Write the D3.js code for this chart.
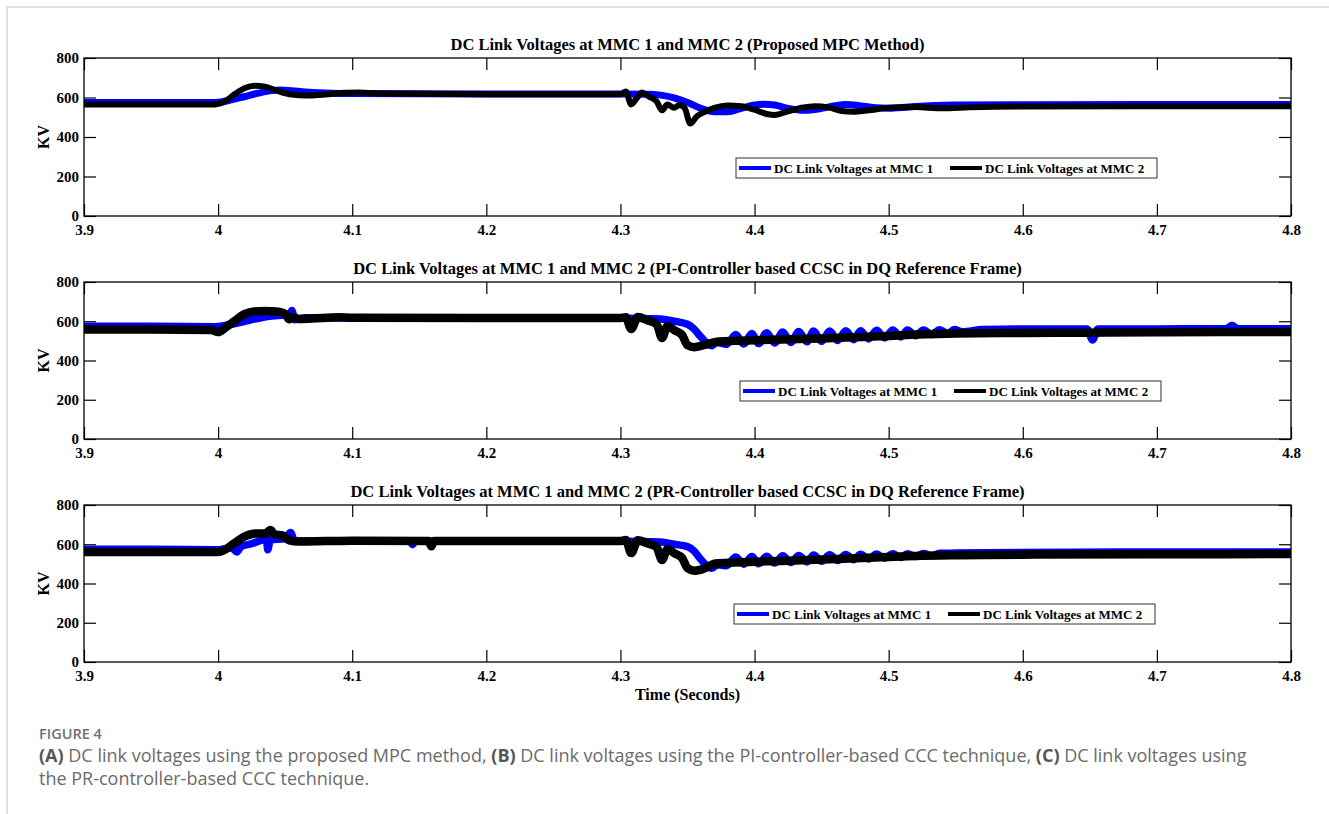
<!doctype html>
<html lang="en">
<head>
  <meta charset="utf-8">
  <title>DC link voltages at MMC 1 and MMC 2</title>
  <style>
    body { margin: 0; background: #fff; }
    svg { display: block; }
    .serif { font-family: 'Liberation Serif', 'Times New Roman', serif; font-weight: bold; fill: #000; }
    .axis .domain { display: none; }
    .axis line { stroke: #000; stroke-width: 1.2; }
    .axis text { font-family: 'Liberation Serif', 'Times New Roman', serif; font-weight: bold; font-size: 15px; fill: #000; }
    .caption { font-family: 'Open Sans', sans-serif; fill: #6b6b6b; }
  </style>
</head>

<body>
  <script src="https://cdn.jsdelivr.net/npm/d3@7"></script>
  <script>
    // ---- data: [time (s), voltage (kV)] ----
    var xTicks = [3.9, 4, 4.1, 4.2, 4.3, 4.4, 4.5, 4.6, 4.7, 4.8]
    var yTicks = [0, 200, 400, 600, 800]
    var seriesNames = ['DC Link Voltages at MMC 1', 'DC Link Voltages at MMC 2']
    var titles = [
      'DC Link Voltages at MMC 1 and MMC 2 (Proposed MPC Method)',
      'DC Link Voltages at MMC 1 and MMC 2 (PI-Controller based CCSC in DQ Reference Frame)',
      'DC Link Voltages at MMC 1 and MMC 2 (PR-Controller based CCSC in DQ Reference Frame)'
    ]

    // (A) proposed MPC
    var mpcMmc1 = [[3.9,575],[3.95,575],[3.998,575],[4.01,588],[4.02,605],[4.03,622],[4.04,635],[4.047,638],
      [4.055,634],[4.065,628],[4.08,623],[4.1,620],[4.2,618],[4.3,618],[4.32,617],[4.33,612],[4.34,598],
      [4.35,575],[4.36,545],[4.37,528],[4.38,528],[4.39,545],[4.4,562],[4.407,566],[4.415,562],[4.425,545],
      [4.437,535],[4.45,545],[4.46,558],[4.468,564],[4.477,560],[4.49,548],[4.5,546],[4.515,552],[4.53,558],
      [4.55,562],[4.6,563],[4.7,564],[4.8,565]]
    var mpcMmc2 = [[3.9,565],[3.95,565],[3.998,565],[4.005,580],[4.012,615],[4.02,648],[4.027,660],[4.035,655],
      [4.045,632],[4.055,615],[4.065,610],[4.08,615],[4.095,624],[4.105,625],[4.12,620],[4.2,617],[4.3,617],
      [4.304,630],[4.308,565],[4.312,595],[4.316,625],[4.321,605],[4.327,580],[4.331,535],[4.335,565],
      [4.34,548],[4.344,562],[4.348,545],[4.352,468],[4.357,505],[4.363,528],[4.37,548],[4.38,560],[4.39,556],
      [4.4,538],[4.41,515],[4.415,512],[4.425,530],[4.435,548],[4.445,556],[4.455,550],[4.465,532],[4.473,528],
      [4.485,535],[4.5,548],[4.52,552],[4.54,545],[4.56,550],[4.6,555],[4.7,556],[4.8,556]]

    // (B) PI-controller based CCSC
    var piMmc1 = [[3.9,575],[3.95,575],[3.998,572],[4.01,585],[4.02,600],[4.03,615],[4.04,626],[4.048,630],
      [4.053,628],[4.055,655],[4.057,608],[4.065,618],[4.08,617],[4.1,617],[4.2,615],[4.3,615],[4.33,612],
      [4.34,600],[4.35,585],[4.355,560],[4.36,520],[4.368,475],[4.372,492],[4.379,482],
      [4.386,532],[4.392,484],[4.398,537],[4.403,486],[4.409,542],[4.415,489],[4.421,545],[4.427,492],
      [4.433,548],[4.439,495],[4.444,550],[4.45,498],[4.456,550],[4.462,502],[4.468,552],[4.474,506],
      [4.479,552],[4.485,510],[4.491,554],[4.497,515],[4.503,555],[4.509,520],[4.514,555],[4.52,526],
      [4.526,556],[4.532,532],[4.538,557],[4.544,538],[4.549,558],[4.555,546],[4.57,558],[4.6,560],
      [4.648,560],[4.652,505],[4.656,560],[4.7,561],[4.752,562],[4.756,580],[4.76,562],[4.8,562]]
    var piMmc2 = [[3.9,558],[3.95,558],[3.995,555],[4.0,545],[4.005,565],[4.012,600],[4.02,638],[4.027,650],
      [4.035,652],[4.045,648],[4.05,638],[4.053,610],[4.056,622],[4.06,612],[4.07,614],[4.09,620],[4.1,618],
      [4.2,616],[4.3,616],[4.304,620],[4.308,560],[4.313,622],[4.32,605],[4.327,585],[4.331,515],[4.335,575],
      [4.34,555],[4.346,530],[4.35,478],[4.355,468],[4.362,478],[4.371,495],[4.385,500],[4.4,503],[4.42,507],
      [4.45,512],[4.48,520],[4.5,525],[4.52,532],[4.55,538],[4.6,540],[4.65,542],[4.7,544],[4.75,545],[4.8,545]]

    // (C) PR-controller based CCSC
    var prMmc1 = [[3.9,575],[3.95,575],[4.0,572],[4.01,582],[4.014,560],[4.017,588],[4.025,603],[4.032,620],
      [4.036,626],[4.037,572],[4.039,624],[4.05,628],[4.054,660],[4.057,617],[4.07,617],[4.1,617],[4.143,616],
      [4.145,598],[4.147,616],[4.2,615],[4.3,615],[4.33,612],[4.34,600],[4.35,588],[4.355,565],[4.36,522],
      [4.368,478],[4.373,496],[4.379,490],
      [4.386,535],[4.392,498],[4.398,537],[4.403,501],[4.409,539],[4.415,504],[4.421,541],[4.427,507],
      [4.433,543],[4.439,510],[4.444,545],[4.45,513],[4.456,546],[4.462,517],[4.468,548],[4.474,521],
      [4.479,549],[4.485,525],[4.491,550],[4.497,529],[4.503,551],[4.509,533],[4.514,552],[4.52,537],
      [4.526,553],[4.532,541],[4.538,554],[4.55,555],[4.6,558],[4.7,560],[4.8,560]]
    var prMmc2 = [[3.9,560],[3.95,560],[4.0,560],[4.005,572],[4.012,605],[4.02,640],[4.028,655],[4.035,655],
      [4.039,672],[4.042,650],[4.048,645],[4.053,620],[4.06,614],[4.08,616],[4.1,618],[4.157,617],[4.159,590],
      [4.161,617],[4.2,616],[4.3,616],[4.304,622],[4.308,555],[4.313,620],[4.32,605],[4.327,585],[4.331,520],
      [4.335,575],[4.34,555],[4.346,530],[4.35,478],[4.355,465],[4.362,475],[4.371,502],[4.385,507],[4.4,511],
      [4.42,515],[4.45,522],[4.48,530],[4.5,535],[4.52,540],[4.55,544],[4.6,547],[4.7,549],[4.8,550]]

    var panelData = [[mpcMmc1, mpcMmc2], [piMmc1, piMmc2], [prMmc1, prMmc2]]

    // ---- layout ----
    var width = 1329
    var height = 814
    var plotLeft = 84
    var plotRight = 1291
    var panels = [
      { top: 58, bottom: 216, legendX: 736, widths: [7, 6] },
      { top: 282, bottom: 439, legendX: 740, widths: [7.5, 8.5] },
      { top: 505, bottom: 662, legendX: 734, widths: [7.5, 8.5] }
    ]
    var colors = ['#0000ff', '#000000']

    var svg = d3.select('body').append('svg')
      .attr('width', width)
      .attr('height', height)

    // light frame around the figure
    svg.append('path')
      .attr('d', 'M7,' + height + 'V7H' + width)
      .style('fill', 'none')
      .style('stroke', '#d6d6d6')
      .style('stroke-width', 1.5)

    var x = d3.scaleLinear()
      .domain([3.9, 4.8])
      .range([plotLeft, plotRight])

    panels.forEach(function(p, i) {
      var y = d3.scaleLinear()
        .domain([0, 800])
        .range([p.bottom, p.top])

      var g = svg.append('g')

      g.append('clipPath')
        .attr('id', 'clip' + i)
      .append('rect')
        .attr('x', plotLeft)
        .attr('y', p.top)
        .attr('width', plotRight - plotLeft)
        .attr('height', p.bottom - p.top)

      var line = d3.line()
        .x(function(d) { return x(d[0]) })
        .y(function(d) { return y(d[1]) })
        .curve(d3.curveMonotoneX)

      g.append('g')
        .attr('clip-path', 'url(#clip' + i + ')')
        .selectAll('path')
        .data(panelData[i])
        .enter().append('path')
          .attr('d', line)
          .style('fill', 'none')
          .style('stroke', function(d, k) { return colors[k] })
          .style('stroke-width', function(d, k) { return p.widths[k] })
          .style('stroke-linejoin', 'round')
          .style('stroke-linecap', 'round')

      // axes with inward ticks, MATLAB style
      g.append('g')
        .attr('class', 'axis')
        .attr('transform', 'translate(0,' + p.bottom + ')')
        .call(d3.axisBottom(x).tickValues(xTicks).tickSize(-12).tickPadding(8)
          .tickFormat(function(d) { return String(d) }))
      g.append('g')
        .attr('class', 'axis')
        .attr('transform', 'translate(0,' + p.top + ')')
        .call(d3.axisTop(x).tickValues(xTicks).tickSize(-12).tickFormat(''))
      g.append('g')
        .attr('class', 'axis')
        .attr('transform', 'translate(' + plotLeft + ',0)')
        .call(d3.axisLeft(y).tickValues(yTicks).tickSize(-12).tickPadding(5))
      g.append('g')
        .attr('class', 'axis')
        .attr('transform', 'translate(' + plotRight + ',0)')
        .call(d3.axisRight(y).tickValues(yTicks).tickSize(-12).tickFormat(''))

      g.append('rect')
        .attr('x', plotLeft)
        .attr('y', p.top)
        .attr('width', plotRight - plotLeft)
        .attr('height', p.bottom - p.top)
        .style('fill', 'none')
        .style('stroke', '#000')
        .style('stroke-width', 1.3)

      g.append('text')
        .attr('class', 'serif')
        .attr('x', (plotLeft + plotRight) / 2)
        .attr('y', p.top - 8)
        .attr('text-anchor', 'middle')
        .style('font-size', '16.5px')
        .text(titles[i])

      g.append('text')
        .attr('class', 'serif')
        .attr('transform', 'translate(49,' + ((p.top + p.bottom) / 2) + ') rotate(-90)')
        .attr('text-anchor', 'middle')
        .style('font-size', '16px')
        .text('KV')

      // legend
      var lg = g.append('g')
        .attr('transform', 'translate(' + p.legendX + ',' + Math.round(y(295)) + ')')
      lg.append('rect')
        .attr('width', 421)
        .attr('height', 20)
        .style('fill', '#fff')
        .style('stroke', '#333')
        .style('stroke-width', 1)
      var item = lg.selectAll('.item')
        .data(seriesNames)
        .enter().append('g')
          .attr('class', 'item')
          .attr('transform', function(d, k) { return 'translate(' + (3 + k * 211) + ',0)' })
      item.append('line')
        .attr('x1', 0)
        .attr('x2', 32)
        .attr('y1', 10)
        .attr('y2', 10)
        .style('stroke', function(d, k) { return colors[k] })
        .style('stroke-width', 4)
      item.append('text')
        .attr('class', 'serif')
        .attr('x', 35)
        .attr('y', 14.5)
        .style('font-size', '13px')
        .text(function(d) { return d })
    })

    svg.append('text')
      .attr('class', 'serif')
      .attr('x', (plotLeft + plotRight) / 2)
      .attr('y', 700)
      .attr('text-anchor', 'middle')
      .style('font-size', '16px')
      .text('Time (Seconds)')

    // caption
    svg.append('text')
      .attr('class', 'caption')
      .attr('x', 39)
      .attr('y', 739)
      .style('font-size', '14.5px')
      .style('font-weight', 600)
      .style('fill', '#707070')
      .text('FIGURE 4')

    var captionLines = [
      [['(A)', true], [' DC link voltages using the proposed MPC method, ', false], ['(B)', true],
       [' DC link voltages using the PI-controller-based CCC technique, ', false], ['(C)', true],
       [' DC link voltages using', false]],
      [['the PR-controller-based CCC technique.', false]]
    ]
    captionLines.forEach(function(parts, i) {
      var t = svg.append('text')
        .attr('class', 'caption')
        .attr('x', 39)
        .attr('y', 762 + i * 23)
        .style('font-size', '18px')
      t.selectAll('tspan')
        .data(parts)
        .enter().append('tspan')
          .style('font-weight', function(d) { return d[1] ? 700 : 400 })
          .style('fill', function(d) { return d[1] ? '#555' : '#6b6b6b' })
          .text(function(d) { return d[0] })
    })
  </script>
</body>
</html>
